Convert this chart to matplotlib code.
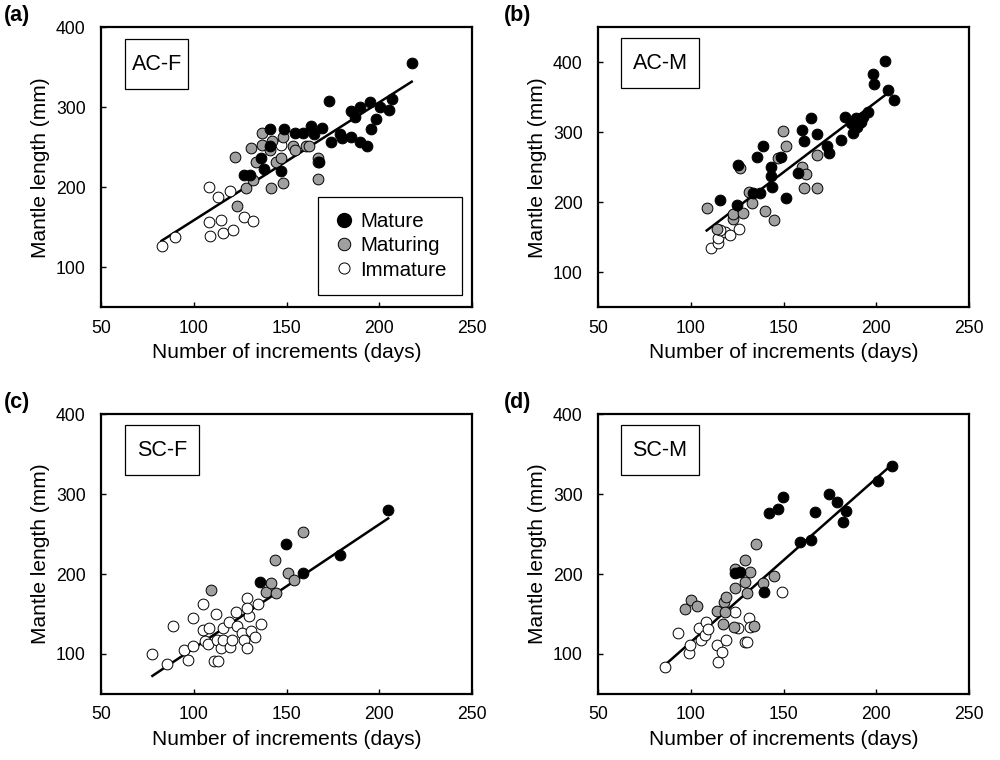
import matplotlib
matplotlib.use("Agg")
import matplotlib.pyplot as plt
from matplotlib.lines import Line2D
from matplotlib.patches import Rectangle

plt.rcParams["font.family"] = ["Liberation Sans", "DejaVu Sans"]

# ---- (a) AC-F
a_mature_x = [141, 148.6, 141, 136, 138, 147, 127.3, 130.4, 154.8, 158.9, 163.4, 169, 165,
              173, 173.75, 179, 180, 184.8, 187, 189.8, 195, 200.5, 205, 207, 198, 195.7,
              185, 189.8, 193.4, 217.5, 167.5]
a_mature_y = [272.5, 272.5, 251, 236, 222.5, 220.4, 215, 215, 267.5, 267.5, 276.7, 273.75, 266,
              308, 257, 266, 261, 295, 288, 300, 306, 300, 296, 310, 285, 272.5,
              262.5, 256, 251, 356, 231]
a_maturing_x = [122, 123.2, 130.9, 128.2, 132, 133.8, 136.6, 136.6, 142, 141.6, 144.3, 147,
                148.2, 147.9, 153.6, 154.8, 160.7, 162, 167, 167, 167, 141]
a_maturing_y = [238, 177, 248.8, 198.8, 209, 232, 267.5, 253, 258, 199, 232, 237,
                262.5, 205, 251.7, 246, 251.7, 251, 237, 232, 210, 247]
a_immature_x = [82.7, 89.8, 108, 113, 119.6, 108, 114.8, 108.7, 115.7, 120.9, 127, 132, 147]
a_immature_y = [126.7, 137.5, 200.8, 187.5, 195, 156, 159, 139, 142.5, 146, 163, 158, 253]
a_line_x = [82.7, 217.5]
a_line_y = [133, 332]

# ---- (b) AC-M
b_mature_x = [116, 124.7, 125.6, 133.3, 137.3, 135.5, 139, 143, 143, 144, 148.9, 151.3, 157.9,
              160, 161, 165, 168, 173.5, 174.4, 181.2, 183, 186.6, 187.5, 189.8, 191.6, 192.9,
              195.5, 198.2, 198.7, 204.5, 206.3, 209.5, 189.2]
b_mature_y = [203, 196, 253, 213.8, 213.8, 265, 280.5, 251, 237.6, 221, 265, 205.7, 241.4,
              303, 288, 321, 297, 280.5, 271, 289, 322, 313.8, 298.6, 308, 315, 322,
              329.5, 383, 369, 402, 361, 346, 320]
b_maturing_x = [109, 114, 122.6, 123, 128.3, 126.7, 131.4, 133.2, 140, 145, 146.8, 149.8,
                151.6, 160, 161.9, 160.9, 168, 168]
b_maturing_y = [191.4, 161.4, 175.7, 183, 184, 248.6, 215, 198.6, 186.7, 174.8, 262.9, 302,
                280.5, 251, 240, 220, 220, 267.6]
b_immature_x = [110.9, 114.5, 114.5, 118.5, 121, 126, 115.8]
b_immature_y = [134, 141, 148.6, 158, 153, 161, 160.5]
b_line_x = [108.6, 206.6]
b_line_y = [159.5, 356.7]

# ---- (c) SC-F
c_mature_x = [135.7, 149.8, 158.9, 178.9, 204.8]
c_mature_y = [189.6, 238, 201.7, 223.75, 280]
c_maturing_x = [109.5, 138.9, 141.6, 144.6, 143.75, 150.9, 154, 158.9]
c_maturing_y = [180, 178, 189, 176, 218, 201.7, 192.5, 253]
c_immature_x = [77.7, 85.7, 88.75, 94.6, 97, 99.5, 99.6, 104.8, 104.8, 105.9, 107.7, 108.4,
                110.7, 113, 112, 112.5, 114.8, 115.5, 116, 119, 119.6, 120.5, 122.7, 123.2,
                125.9, 127.3, 128.9, 128.9, 129.8, 128.9, 130.9, 133, 136, 134.8]
c_immature_y = [100, 88, 135, 105, 93, 110, 144.6, 162.5, 130, 116.7, 112.5, 132,
                91.7, 91.7, 150, 118, 107, 118, 132, 140, 109, 118, 153, 135,
                126, 118, 107, 169.6, 147.5, 157, 129, 121.7, 138, 162.5]
c_line_x = [77.7, 204.8]
c_line_y = [72.5, 269.6]

# ---- (d) SC-M
d_mature_x = [124, 126.8, 139.3, 142, 147.3, 149.6, 158.9, 164.6, 167, 174.5, 178.6, 183.6,
              182, 201, 208.4]
d_mature_y = [201, 203, 178, 276, 281, 296.7, 240, 242.5, 278, 300, 289.6, 278.75,
              264.6, 316, 335.4]
d_maturing_x = [96.8, 100, 103.2, 113.9, 117.9, 119, 117.3, 118.4, 123.2, 124, 124, 129,
                129, 130.4, 132, 133.9, 135, 139, 145]
d_maturing_y = [156, 167.5, 160, 154, 165, 171.7, 137.5, 153, 134, 182, 206, 218,
                190, 176, 203, 135, 237.5, 189, 197.5]
d_immature_x = [86, 92.9, 99, 99.8, 104.5, 105.4, 107.7, 108.4, 109.5, 114.3, 114.8, 117,
                119, 123.75, 125.5, 129, 130.4, 131.6, 132, 149]
d_immature_y = [84, 126, 101, 111, 133, 118, 124, 140, 131, 111, 90, 103,
                118, 153, 132, 115, 115, 144.6, 134, 178]
d_line_x = [86, 207]
d_line_y = [86, 334]

panels = [
    ("(a)", "AC-F", a_mature_x, a_mature_y, a_maturing_x, a_maturing_y,
     a_immature_x, a_immature_y, a_line_x, a_line_y, (50, 400), [100, 200, 300, 400]),
    ("(b)", "AC-M", b_mature_x, b_mature_y, b_maturing_x, b_maturing_y,
     b_immature_x, b_immature_y, b_line_x, b_line_y, (50, 450), [100, 200, 300, 400]),
    ("(c)", "SC-F", c_mature_x, c_mature_y, c_maturing_x, c_maturing_y,
     c_immature_x, c_immature_y, c_line_x, c_line_y, (50, 400), [100, 200, 300, 400]),
    ("(d)", "SC-M", d_mature_x, d_mature_y, d_maturing_x, d_maturing_y,
     d_immature_x, d_immature_y, d_line_x, d_line_y, (50, 400), [100, 200, 300, 400]),
]

# axes rectangles in figure fractions (left, bottom, width, height)
rects = [(0.101, 0.596, 0.371, 0.368), (0.598, 0.596, 0.371, 0.368),
         (0.101, 0.087, 0.371, 0.368), (0.598, 0.087, 0.371, 0.368)]
label_pos = [(0.004, 0.980), (0.504, 0.980), (0.004, 0.470), (0.504, 0.470)]
# name boxes in axes fractions: (left, bottom, width, height)
name_boxes = [(0.065, 0.779, 0.170, 0.179), (0.062, 0.782, 0.210, 0.179),
              (0.065, 0.782, 0.199, 0.179), (0.062, 0.782, 0.210, 0.179)]

GRAY = "#a0a0a0"
MS = 60

fig = plt.figure(figsize=(10, 7.6), dpi=100)
for i, p in enumerate(panels):
    (tag, name, mx, my, gx, gy, ix, iy, lx, ly, ylim, yticks) = p
    ax = fig.add_axes(rects[i])
    ax.plot(lx, ly, color="black", lw=1.8, zorder=2)
    ax.scatter(ix, iy, s=MS, facecolor="white", edgecolor="black", linewidth=0.7, zorder=3)
    ax.scatter(gx, gy, s=MS, facecolor=GRAY, edgecolor="black", linewidth=0.7, zorder=4)
    ax.scatter(mx, my, s=MS, facecolor="black", edgecolor="black", linewidth=0.7, zorder=5)
    ax.set_xlim(50, 250)
    ax.set_ylim(*ylim)
    ax.set_xticks([50, 100, 150, 200, 250])
    ax.set_yticks(yticks)
    ax.tick_params(direction="in", length=3.5, width=1, labelsize=12.7)
    ax.tick_params(axis="y", pad=11)
    ax.tick_params(axis="x", pad=9)
    for sp in ax.spines.values():
        sp.set_linewidth(1.6)
    ax.set_xlabel("Number of increments (days)", fontsize=15, labelpad=5)
    ax.set_ylabel("Mantle length (mm)", fontsize=15, labelpad=4)
    bx, by, bw, bh = name_boxes[i]
    ax.add_patch(Rectangle((bx, by), bw, bh, transform=ax.transAxes, facecolor="white",
                           edgecolor="black", linewidth=0.9, zorder=6))
    ax.text(bx + bw / 2, by + bh / 2, name, transform=ax.transAxes,
            ha="center", va="center", fontsize=15.5, zorder=7)
    fig.text(label_pos[i][0], label_pos[i][1], tag, fontsize=15.5, fontweight="bold",
             ha="left", va="center")
    if i == 0:
        handles = [
            Line2D([], [], ls="none", marker="o", ms=10, mfc="black", mec="black"),
            Line2D([], [], ls="none", marker="o", ms=9, mfc=GRAY, mec="black", mew=0.7),
            Line2D([], [], ls="none", marker="o", ms=8, mfc="white", mec="black", mew=0.7),
        ]
        leg = ax.legend(handles, ["Mature", "Maturing", "Immature"], loc="lower right",
                        bbox_to_anchor=(0.973, 0.043), fontsize=14.8, frameon=True,
                        fancybox=False, edgecolor="black", framealpha=1,
                        handletextpad=0.3, labelspacing=0.25, borderpad=0.75,
                        handlelength=1.0, borderaxespad=0)
        leg.get_frame().set_linewidth(0.9)

fig.savefig("out.png", dpi=100)
